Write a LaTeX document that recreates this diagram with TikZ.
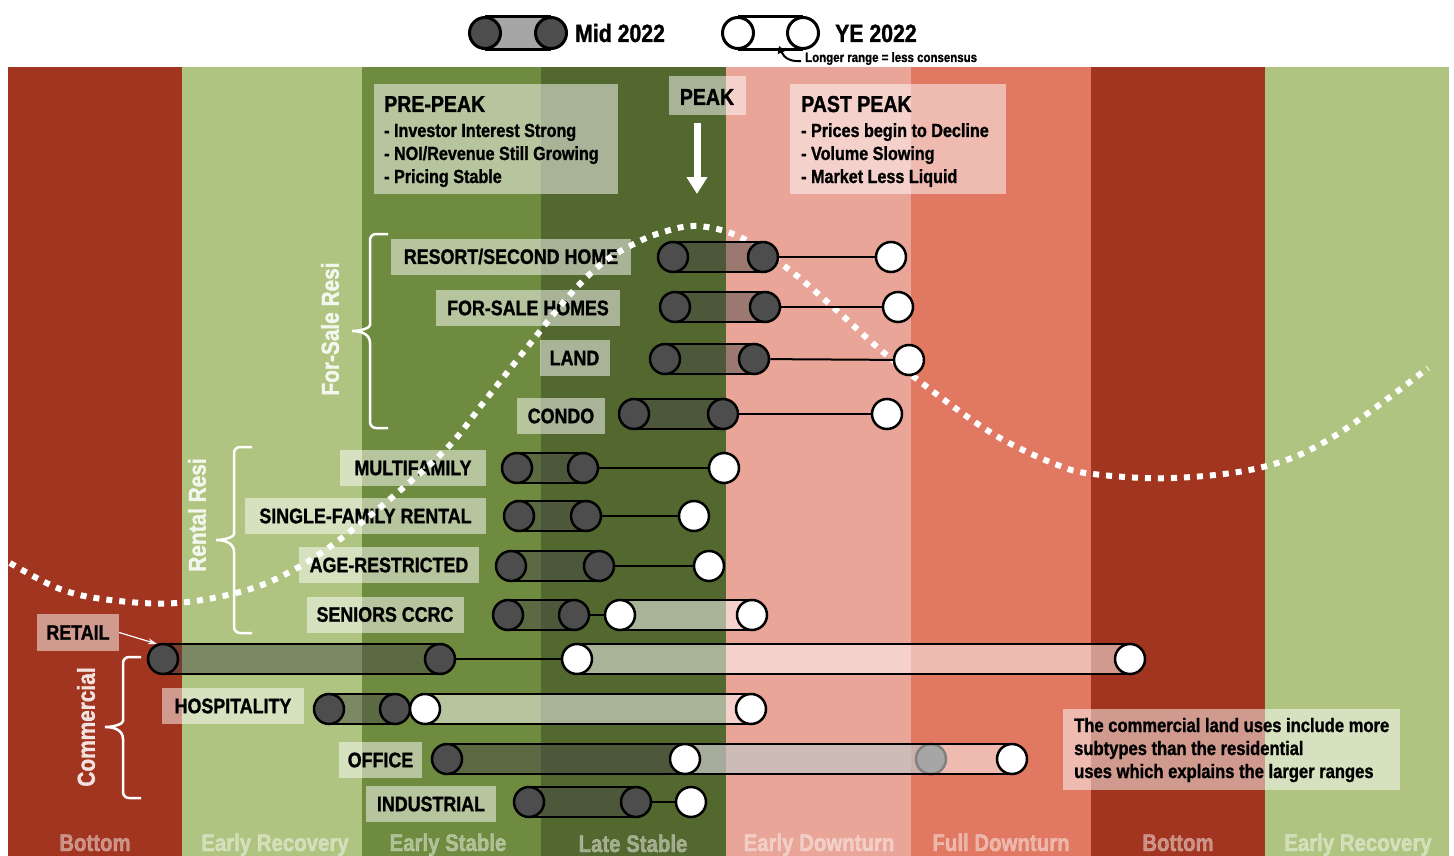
\documentclass[tikz,border=0pt]{standalone}
\usepackage{fontspec}
\setmainfont{Liberation Sans}[FakeStretch=0.85, BoldFont={Liberation Sans Bold}, BoldFeatures={FakeBold=1.2}]
\usetikzlibrary{arrows.meta}
\newcommand\fsz[1]{\fontsize{#1}{#1}\selectfont}
\definecolor{cBottom}{HTML}{A23520}
\definecolor{cRecov}{HTML}{AEC480}
\definecolor{cEStab}{HTML}{6F8B3F}
\definecolor{cLStab}{HTML}{53682F}
\definecolor{cEDown}{HTML}{E9A597}
\definecolor{cFDown}{HTML}{E07862}
\definecolor{cDark}{HTML}{4D4D4D}
\definecolor{cMidFill}{HTML}{474747}
\definecolor{cLegGray}{HTML}{A6A6A6}
\tikzset{
 lbl/.style={fill=white, fill opacity=0.5, text opacity=1, text=black, font=\bfseries\fsz{21}, minimum height=36pt, inner sep=0pt},
 infobox/.style={fill=white, fill opacity=0.5, inner sep=0pt},
 infotitle/.style={anchor=base west, font=\bfseries\fsz{23}, inner sep=0pt},
 infoline/.style={anchor=base west, font=\bfseries\fsz{19}, inner sep=0pt},
 collab/.style={anchor=base, text=white, text opacity=0.45, font=\bfseries\fsz{24}, inner sep=0pt},
 grouplab/.style={rotate=90, text=white, text opacity=0.85, font=\bfseries\fsz{24.5}, inner sep=0pt},
 bracestyle/.style={draw=white, line width=2.5pt},
 midc/.style={circle, draw=black, fill=cDark, line width=2.5pt, minimum size=30pt, inner sep=0pt},
 yec/.style={circle, draw=black, fill=white, line width=2.5pt, minimum size=30pt, inner sep=0pt},
 barline/.style={draw=black, line width=2.5pt},
 conn/.style={draw=black, line width=2pt},
}
% #1 name, #2 x1, #3 x2, #4 y
\newcommand\midbar[4]{%
  \fill[cMidFill, fill opacity=0.48] (#2,#4-15) rectangle (#3,#4+15);
  \draw[barline] (#2,#4-15) -- (#3,#4-15) (#2,#4+15) -- (#3,#4+15);
  \node[midc] (#1a) at (#2,#4) {};
  \node[midc] (#1b) at (#3,#4) {};
}
\newcommand\yebar[4]{%
  \fill[white, fill opacity=0.5] (#2,#4-15) rectangle (#3,#4+15);
  \draw[barline] (#2,#4-15) -- (#3,#4-15) (#2,#4+15) -- (#3,#4+15);
  \node[yec] (#1c) at (#2,#4) {};
  \node[yec] (#1d) at (#3,#4) {};
}
\newcommand\yedot[3]{%
  \node[yec] (#1c) at (#2,#3) {};
}
% #1 x of ends, #2 top y, #3 bottom y, #4 tip y
\newcommand\grbrace[4]{%
  \draw[bracestyle, rounded corners=6pt] (#1,#2) -- (#1-18,#2) -- (#1-18,#4-12)
    [sharp corners] .. controls (#1-18,#4-3) and (#1-27,#4) .. (#1-36,#4)
    .. controls (#1-27,#4) and (#1-18,#4+3) .. (#1-18,#4+12)
    [rounded corners=6pt] -- (#1-18,#3) -- (#1,#3);
}
\begin{document}
\begin{tikzpicture}[x=1pt, y=-1pt, font=\bfseries]
\useasboundingbox (0,0) rectangle (1454,856);
\fill[white] (0,0) rectangle (1454,856);
% columns
\fill[cBottom] (8,67) rectangle (182,856);
\fill[cRecov] (182,67) rectangle (362,856);
\fill[cEStab] (362,67) rectangle (541,856);
\fill[cLStab] (541,67) rectangle (726,856);
\fill[cEDown] (726,67) rectangle (911,856);
\fill[cFDown] (911,67) rectangle (1091,856);
\fill[cBottom] (1091,67) rectangle (1265,856);
\fill[cRecov] (1265,67) rectangle (1449,856);
% column labels
\node[collab] (c1) at (95,851) {Bottom};
\node[collab] (c2) at (275,851) {Early Recovery};
\node[collab] (c3) at (448,851) {Early Stable};
\node[collab] (c4) at (633,852) {Late Stable};
\node[collab] (c5) at (819,851) {Early Downturn};
\node[collab] (c6) at (1001,851) {Full Downturn};
\node[collab] (c7) at (1178,851) {Bottom};
\node[collab] (c8) at (1358,851) {Early Recovery};
% legend
\fill[cLegGray] (485,16.5) rectangle (551,49.5);
\draw[line width=3pt] (485,16.5) -- (551,16.5) (485,49.5) -- (551,49.5);
\node[circle, draw=black, fill=cDark, line width=3pt, minimum size=31pt, inner sep=0pt] (lm1) at (485,33) {};
\node[circle, draw=black, fill=cDark, line width=3pt, minimum size=31pt, inner sep=0pt] (lm2) at (551,33) {};
\draw[line width=3pt] (738,16.5) -- (803,16.5) (738,49.5) -- (803,49.5);
\node[circle, draw=black, fill=white, line width=3pt, minimum size=31pt, inner sep=0pt] (ly1) at (738,33) {};
\node[circle, draw=black, fill=white, line width=3pt, minimum size=31pt, inner sep=0pt] (ly2) at (803,33) {};
\node[anchor=base west, font=\bfseries\fsz{25}, inner sep=0pt] (tmid) at (575,42) {Mid 2022};
\node[anchor=base west, font=\bfseries\fsz{25}, inner sep=0pt] (tye) at (835,42) {YE 2022};
\node[anchor=base west, font=\bfseries\fsz{13.5}, inner sep=0pt] (tlong) at (805,62) {Longer range = less consensus};
\coordinate (la1) at (801,61);
\coordinate (la2) at (779,46);
\draw[line width=2pt, -{Triangle[length=7pt,width=8pt]}] (la1) .. controls (791,62) and (784,58) .. (la2);
% braces
\grbrace{388}{234}{428}{331}
\node[grouplab] (gfs) at (330,329) {For-Sale Resi};
\grbrace{252}{447}{633}{540}
\node[grouplab] (grr) at (197,515) {Rental Resi};
\grbrace{141}{657}{798}{727}
\node[grouplab] (gco) at (86,727) {Commercial};
% info boxes
\node[infobox, minimum width=244pt, minimum height=110pt] (prebox) at (496,139) {};
\node[infotitle] (pre0) at (384,112) {PRE-PEAK};
\node[infoline] (pre1) at (384,137) {- Investor Interest Strong};
\node[infoline] (pre2) at (384,160) {- NOI/Revenue Still Growing};
\node[infoline] (pre3) at (384,183) {- Pricing Stable};
\node[infobox, minimum width=216pt, minimum height=110pt] (pastbox) at (898,139) {};
\node[infotitle] (past0) at (801,112) {PAST PEAK};
\node[infoline] (past1) at (801,137) {- Prices begin to Decline};
\node[infoline] (past2) at (801,160) {- Volume Slowing};
\node[infoline] (past3) at (801,183) {- Market Less Liquid};
\node[infobox, minimum width=77pt, minimum height=39pt] (peakbox) at (707,96) {};
\node[font=\bfseries\fsz{23}, inner sep=0pt] (peak) at (707,97) {PEAK};
\coordinate (pk1) at (697,123);
\coordinate (pk2) at (697,194);
\draw[white, line width=7pt, -{Triangle[length=17pt,width=20pt]}] (pk1) -- (pk2);
% note
\node[infobox, minimum width=337pt, minimum height=81pt] (notebox) at (1231.5,749.5) {};
\node[anchor=base west, font=\bfseries\fsz{19.5}, inner sep=0pt] (n1) at (1074,732) {The commercial land uses include more};
\node[anchor=base west, font=\bfseries\fsz{19.5}, inner sep=0pt] (n2) at (1074,755) {subtypes than the residential};
\node[anchor=base west, font=\bfseries\fsz{19.5}, inner sep=0pt] (n3) at (1074,778) {uses which explains the larger ranges};
% row labels
\node[lbl, minimum width=240pt] (l1) at (511,256.5) {RESORT/SECOND HOME};
\node[lbl, minimum width=184pt] (l2) at (528,308) {FOR-SALE HOMES};
\node[lbl, minimum width=70pt] (l3) at (574.5,358) {LAND};
\node[lbl, minimum width=88pt] (l4) at (561,416) {CONDO};
\node[lbl, minimum width=146pt] (l5) at (413,468) {MULTIFAMILY};
\node[lbl, minimum width=241pt] (l6) at (365.5,516) {SINGLE-FAMILY RENTAL};
\node[lbl, minimum width=180pt] (l7) at (389,565) {AGE-RESTRICTED};
\node[lbl, minimum width=157pt] (l8) at (385,614.5) {SENIORS CCRC};
\node[lbl, minimum width=82pt, minimum height=37pt] (l9) at (78,632.5) {RETAIL};
\node[lbl, minimum width=142pt] (l10) at (233,706) {HOSPITALITY};
\node[lbl, minimum width=83pt] (l11) at (380.5,760) {OFFICE};
\node[lbl, minimum width=130pt] (l12) at (431,804) {INDUSTRIAL};
% wave
\draw[white, line width=6pt, dash pattern=on 6pt off 7pt] plot[smooth, tension=0.6] coordinates {
(10,563) (60,589) (110,600) (177,603) (247,590) (297,568) (343,537) (403,488) (450,445) (487,398) (533,340) (567,298) (600,265) (630,246) (660,233) (697,226) (740,237) (787,268) (833,307) (883,352) (947,402) (1000,438) (1055,464) (1093,474) (1173,478) (1263,467) (1333,437) (1428,368)};
% bars
\midbar{r1}{673}{763}{257} \yedot{r1}{891}{257} \draw[conn] (r1b) -- (r1c);
\midbar{r2}{675}{765}{307} \yedot{r2}{898}{307} \draw[conn] (r2b) -- (r2c);
\midbar{r3}{665}{754}{359} \yedot{r3}{909}{360} \draw[conn] (r3b) -- (r3c);
\midbar{r4}{634}{723}{414} \yedot{r4}{887}{414} \draw[conn] (r4b) -- (r4c);
\midbar{r5}{517}{583}{468} \yedot{r5}{724}{468} \draw[conn] (r5b) -- (r5c);
\midbar{r6}{519}{586}{516} \yedot{r6}{694}{516} \draw[conn] (r6b) -- (r6c);
\midbar{r7}{511}{599}{566} \yedot{r7}{709}{566} \draw[conn] (r7b) -- (r7c);
\midbar{r8}{508}{574}{615} \draw[conn] (r8b) -- (620,615); \yebar{r8}{620}{752}{615}
\midbar{r9}{163}{440}{659} \draw[conn] (r9b) -- (577,659); \yebar{r9}{577}{1130}{659}
\midbar{r10}{329}{395}{709} \yebar{r10}{425}{751}{709}
\midbar{r11}{447}{931}{759} \yebar{r11}{685}{1012}{759}
\midbar{r12}{529}{636}{802} \yedot{r12}{691}{802} \draw[conn] (r12b) -- (r12c);
% retail pointer
\draw[white, line width=1.2pt, -{Stealth[length=9pt,width=6pt]}] (l9.east) -- (r9a.112);
\end{tikzpicture}
\end{document}
